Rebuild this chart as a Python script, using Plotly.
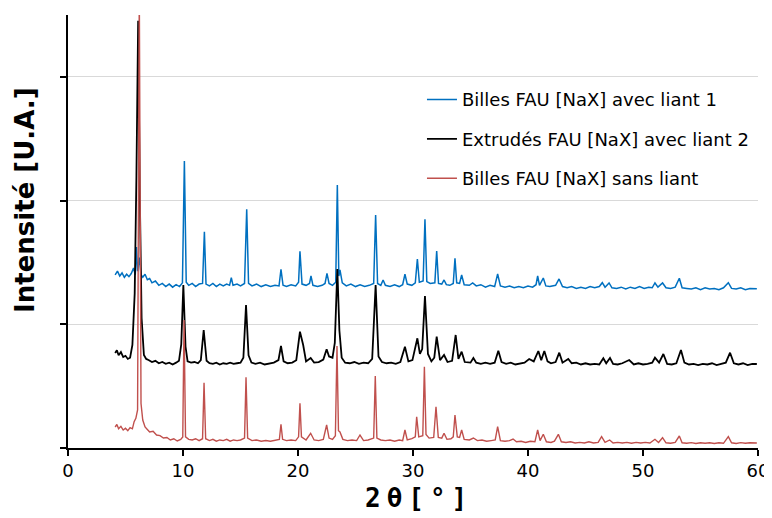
import plotly.graph_objects as go

# ---------------- data ----------------
blue_name = "Billes FAU [NaX] avec liant 1"
blue_x = [4.10, 4.30, 4.50, 4.70, 4.90, 5.10, 5.30, 5.50, 5.70, 5.85, 5.95, 6.05, 6.20, 6.35, 6.50, 6.70, 6.90, 7.10, 7.30, 7.60,
          7.90, 8.20, 8.50, 8.80, 9.10, 9.40, 9.70, 9.95, 10.12, 10.28, 10.50, 10.80, 11.10, 11.40, 11.70, 11.86, 12.00, 12.30, 12.60, 12.90,
          13.20, 13.50, 13.80, 14.05, 14.20, 14.35, 14.70, 15.00, 15.35, 15.54, 15.70, 16.00, 16.40, 16.80, 17.20, 17.60, 18.00, 18.35, 18.52, 18.70,
          19.00, 19.40, 19.80, 20.05, 20.17, 20.35, 20.70, 21.00, 21.13, 21.30, 21.70, 22.10, 22.35, 22.52, 22.70, 23.00, 23.28, 23.42, 23.55, 23.65,
          23.85, 24.20, 24.60, 25.00, 25.40, 25.80, 26.20, 26.58, 26.75, 26.92, 27.20, 27.40, 27.60, 28.00, 28.40, 28.80, 29.10, 29.30, 29.50, 29.90,
          30.20, 30.38, 30.55, 30.88, 31.04, 31.20, 31.50, 31.90, 32.06, 32.22, 32.50, 32.70, 32.90, 33.20, 33.50, 33.65, 33.80, 34.05, 34.23, 34.45,
          34.90, 35.19, 35.50, 35.90, 36.30, 36.70, 37.10, 37.36, 37.60, 38.00, 38.40, 38.80, 39.20, 39.60, 40.00, 40.40, 40.70, 40.84, 41.00, 41.33,
          41.55, 41.90, 42.40, 42.70, 43.00, 43.40, 43.80, 44.20, 44.60, 45.00, 45.40, 45.80, 46.20, 46.46, 46.70, 47.05, 47.30, 47.70, 48.10, 48.50,
          48.90, 49.30, 49.70, 50.10, 50.50, 50.80, 51.04, 51.30, 51.70, 52.00, 52.40, 52.80, 53.16, 53.40, 53.80, 54.20, 54.60, 55.00, 55.40, 55.80,
          56.20, 56.60, 57.00, 57.42, 57.70, 58.10, 58.50, 58.90, 59.30, 59.70, 59.90]
blue_y = [13986, 14300, 13900, 14150, 13800, 14050, 13850, 14100, 14551, 14000, 16250, 14300, 15400, 14000, 13800, 14050, 13600, 13700, 13350, 13500,
          13150, 13300, 13050, 13250, 13000, 13200, 13050, 13350, 23201, 13400, 13150, 13300, 13050, 13250, 13300, 17486, 13250, 13100, 13300, 13050,
          13250, 13100, 13250, 13150, 13767, 13150, 13250, 13100, 13300, 19297, 13300, 13100, 13250, 13050, 13200, 13050, 13150, 13100, 14446, 13150,
          13050, 13200, 13100, 13400, 15901, 13250, 13150, 13300, 13904, 13150, 13050, 13150, 13300, 14123, 13300, 13150, 13400, 21261, 13900, 14390,
          13350, 13100, 13250, 13050, 13200, 13050, 13150, 13300, 18836, 13300, 13150, 13581, 13150, 13050, 13200, 13050, 13200, 14042, 13250, 13150,
          13350, 15279, 13400, 13500, 18488, 13450, 13300, 13350, 15925, 13300, 13250, 13581, 13200, 13150, 13300, 15335, 13350, 13300, 13986, 13200,
          13150, 13339, 13100, 13200, 13000, 13150, 13050, 14066, 13100, 13000, 13100, 12950, 13050, 12950, 13100, 13000, 13200, 13904, 13150, 13743,
          13100, 13050, 13150, 13662, 13050, 12950, 13050, 12900, 13000, 12900, 13050, 12950, 13050, 13363, 13000, 13339, 12950, 12900, 13000, 12850,
          13000, 12900, 13050, 12900, 13000, 12950, 13339, 13000, 13339, 12950, 12900, 13000, 13719, 12950, 12900, 12850, 12950, 12800, 12950, 12850,
          12900, 12800, 12950, 13363, 12900, 12850, 12950, 12800, 12900, 12850, 12880]

black_name = "Extrudés FAU [NaX] avec liant 2"
black_x = [4.10, 4.25, 4.40, 4.60, 4.80, 5.00, 5.20, 5.40, 5.60, 5.80, 5.95, 6.10, 6.25, 6.40, 6.60, 6.80, 7.00, 7.30, 7.60, 7.90,
           8.20, 8.50, 8.80, 9.10, 9.40, 9.65, 9.85, 10.03, 10.22, 10.40, 10.70, 11.00, 11.30, 11.55, 11.80, 12.05, 12.30, 12.60, 12.90, 13.20,
           13.50, 13.80, 14.10, 14.40, 14.70, 15.00, 15.25, 15.48, 15.70, 15.95, 16.30, 16.70, 17.10, 17.50, 17.90, 18.30, 18.52, 18.75, 19.10, 19.50,
           19.85, 20.17, 20.45, 20.70, 21.10, 21.40, 21.80, 22.20, 22.49, 22.70, 23.00, 23.20, 23.42, 23.60, 23.80, 24.10, 24.50, 24.90, 25.30, 25.70,
           26.10, 26.45, 26.75, 27.00, 27.30, 27.70, 28.10, 28.50, 28.90, 29.30, 29.60, 29.95, 30.38, 30.60, 30.80, 31.04, 31.30, 31.60, 31.85, 32.06,
           32.35, 32.70, 33.00, 33.40, 33.71, 33.95, 34.23, 34.50, 35.00, 35.25, 35.50, 35.90, 36.30, 36.70, 37.10, 37.42, 37.70, 38.10, 38.50, 38.90,
           39.30, 39.70, 40.10, 40.50, 40.90, 41.15, 41.42, 41.70, 42.00, 42.40, 42.72, 43.00, 43.50, 43.80, 44.20, 44.60, 45.00, 45.40, 45.80, 46.20,
           46.55, 46.80, 47.13, 47.40, 47.80, 48.20, 48.80, 49.20, 49.60, 50.00, 50.40, 50.80, 51.04, 51.40, 51.77, 52.10, 52.50, 52.90, 53.30, 53.60,
           54.00, 54.40, 54.80, 55.20, 55.60, 56.00, 56.40, 56.80, 57.20, 57.57, 57.90, 58.30, 58.70, 59.10, 59.50, 59.90]
black_y = [7680, 7900, 7500, 7750, 7350, 7450, 7200, 7300, 8327, 12500, 22000, 34543, 20000, 10500, 7518, 7200, 7114, 6950, 7050, 6850,
           6950, 6800, 6900, 6750, 6900, 7050, 8400, 13177, 8200, 7000, 6900, 6950, 6850, 7100, 9539, 7050, 6850, 6800, 6900, 6750,
           6850, 6800, 6900, 6800, 6850, 6900, 7300, 11560, 7500, 6900, 6800, 6900, 6750, 6850, 6900, 7100, 8246, 7000, 6850, 6900,
           7100, 9401, 8327, 7000, 7276, 6900, 6950, 7150, 7979, 7400, 7300, 8500, 14470, 9500, 7300, 6900, 6850, 6950, 6800, 6900,
           6850, 7200, 13177, 7400, 6950, 6850, 6900, 6800, 6950, 8189, 7000, 7100, 8868, 7600, 8000, 12288, 7600, 7000, 7300, 8998,
           7100, 7518, 6950, 7050, 9135, 7200, 7785, 6950, 6900, 7276, 6900, 6800, 6900, 6800, 6900, 7866, 6950, 6800, 6900, 6750,
           6850, 6900, 7195, 7000, 7841, 7100, 7841, 7000, 6850, 6950, 7704, 6900, 7195, 6850, 6900, 6750, 6850, 6750, 6800, 6750,
           7251, 6850, 7276, 6800, 6750, 6850, 7114, 6750, 6850, 6750, 6800, 6900, 7300, 6900, 7599, 6800, 6750, 6850, 7922, 6900,
           6750, 6800, 6700, 6800, 6750, 6850, 6700, 6800, 6900, 7704, 6850, 6750, 6850, 6700, 6800, 6790]

red_name = "Billes FAU [NaX] sans liant"
red_x = [4.10, 4.25, 4.40, 4.60, 4.80, 5.00, 5.20, 5.40, 5.60, 5.75, 5.90, 6.05, 6.20, 6.35, 6.50, 6.70, 6.90, 7.10, 7.40, 7.70,
         8.00, 8.30, 8.60, 8.90, 9.20, 9.50, 9.80, 9.98, 10.09, 10.22, 10.50, 10.80, 11.10, 11.40, 11.70, 11.83, 11.97, 12.30, 12.60, 12.90,
         13.20, 13.50, 13.80, 14.10, 14.40, 14.70, 15.00, 15.35, 15.48, 15.62, 16.00, 16.40, 16.80, 17.20, 17.60, 18.00, 18.38, 18.52, 18.66, 19.00,
         19.40, 19.80, 20.05, 20.17, 20.30, 20.70, 21.10, 21.40, 21.80, 22.20, 22.49, 22.70, 23.00, 23.25, 23.39, 23.52, 23.65, 23.90, 24.30, 24.70,
         25.10, 25.39, 25.70, 26.10, 26.58, 26.72, 26.86, 27.20, 27.60, 28.00, 28.40, 28.80, 29.10, 29.30, 29.50, 29.90, 30.20, 30.32, 30.50, 30.85,
         30.99, 31.13, 31.40, 31.80, 32.00, 32.20, 32.50, 32.70, 32.95, 33.30, 33.50, 33.65, 33.85, 34.05, 34.23, 34.45, 34.90, 35.25, 35.60, 36.00,
         36.40, 36.80, 37.15, 37.36, 37.60, 38.00, 38.40, 38.70, 39.00, 39.40, 39.80, 40.20, 40.60, 40.84, 41.05, 41.33, 41.60, 42.00, 42.30, 42.64,
         42.90, 43.30, 43.70, 44.10, 44.50, 44.90, 45.30, 45.70, 46.10, 46.40, 46.70, 47.10, 47.40, 47.80, 48.20, 48.60, 49.00, 49.40, 49.80, 50.20,
         50.60, 51.04, 51.35, 51.70, 52.00, 52.40, 52.80, 53.16, 53.40, 53.80, 54.20, 54.60, 55.00, 55.40, 55.80, 56.20, 56.60, 57.00, 57.42, 57.70,
         58.10, 58.50, 58.90, 59.30, 59.70, 59.90]
red_y = [1698, 1900, 1550, 1750, 1450, 1600, 1400, 1650, 1550, 2126, 2400, 3072, 37000, 3600, 2264, 1698, 1500, 1293, 1350, 1051,
         1000, 808, 850, 650, 750, 566, 700, 900, 10348, 900, 700, 647, 750, 600, 750, 5280, 750, 600, 700, 550,
         650, 600, 700, 550, 650, 600, 650, 800, 5715, 800, 600, 650, 550, 600, 550, 650, 700, 1916, 700, 600,
         650, 600, 900, 3614, 900, 650, 1188, 650, 600, 700, 1859, 800, 700, 1000, 8246, 1400, 1293, 700, 600, 650,
         600, 1051, 600, 650, 800, 5820, 800, 650, 600, 650, 550, 650, 600, 1455, 650, 750, 900, 2530, 900, 1000,
         6572, 1100, 800, 850, 3339, 850, 800, 1188, 700, 750, 900, 2668, 900, 850, 1455, 700, 650, 808, 600, 650,
         550, 600, 650, 1722, 600, 550, 600, 728, 500, 550, 450, 550, 500, 1455, 600, 1108, 500, 450, 550, 1108,
         500, 450, 500, 400, 450, 400, 500, 400, 450, 914, 450, 647, 400, 450, 400, 450, 380, 450, 400, 450,
         400, 703, 450, 833, 420, 380, 450, 970, 420, 380, 430, 370, 420, 380, 420, 370, 420, 380, 914, 420,
         370, 430, 380, 420, 370, 404]

x_ticks = [0, 10, 20, 30, 40, 50, 60]
x_title = "2θ[°]"
y_title = "Intensité [U.A.]"

# ---------------- figure ----------------
fig = go.Figure()
fig.add_trace(go.Scatter(x=blue_x, y=blue_y, name=blue_name, mode="lines",
                         line=dict(color="#0070C0", width=1.5), legendgroup="a"))
fig.add_trace(go.Scatter(x=black_x, y=black_y, name=black_name, mode="lines",
                         line=dict(color="#000000", width=1.8), legendgroup="b"))
fig.add_trace(go.Scatter(x=red_x, y=red_y, name=red_name, mode="lines",
                         line=dict(color="#C0504D", width=1.4), legendgroup="c"))

font_main = "DejaVu Sans, sans-serif"

fig.update_layout(
    width=772, height=518,
    margin=dict(l=60, r=22, t=7, b=78, autoexpand=False),
    paper_bgcolor="white", plot_bgcolor="white",
    font=dict(family=font_main, size=18, color="black"),
    showlegend=True,
    legend=dict(x=0.513, y=0.847, xanchor="left", yanchor="top",
                font=dict(family=font_main, size=18, color="black"),
                bgcolor="rgba(0,0,0,0)", traceorder="grouped", tracegroupgap=13),
    xaxis=dict(range=[0, 60], tickvals=x_ticks, ticktext=[str(v) for v in x_ticks],
               automargin=False,
               showline=True, linecolor="black", linewidth=1.5,
               ticks="outside", ticklen=6, tickcolor="black", tickwidth=1.5,
               showgrid=False, zeroline=False,
               tickfont=dict(family=font_main, size=18, color="black")),
    yaxis=dict(range=[0, 35000], dtick=10000, tick0=0,
               automargin=False,
               showline=True, linecolor="black", linewidth=1.5,
               ticks="outside", ticklen=6, tickcolor="black", tickwidth=1.5,
               showticklabels=False,
               showgrid=True, gridcolor="#D9D9D9", gridwidth=1, zeroline=False),
    annotations=[
        dict(text='<span style="letter-spacing:6px">' + x_title + '</span>',
             xref="paper", yref="paper", x=0.509, y=-0.116,
             xanchor="center", yanchor="middle", showarrow=False,
             font=dict(family="DejaVu Sans Mono, monospace", size=26, color="black", weight="bold")),
        dict(text=y_title, xref="paper", yref="paper", x=-0.0623, y=0.573,
             xanchor="center", yanchor="middle", showarrow=False, textangle=-90,
             font=dict(family="DejaVu Sans, sans-serif", size=26, color="black", weight="bold")),
    ],
)

fig.write_html("out.html")
